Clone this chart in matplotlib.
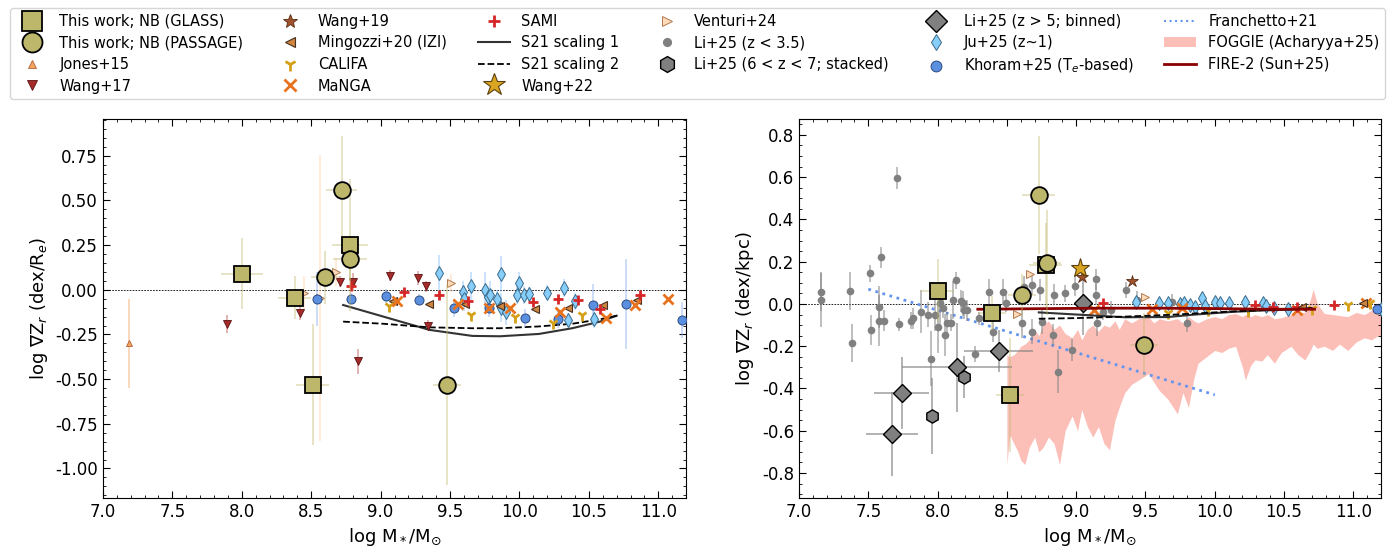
import numpy as np
import matplotlib
matplotlib.use("Agg")
import matplotlib.pyplot as plt
from matplotlib.lines import Line2D
from matplotlib.patches import Patch
from matplotlib.ticker import MultipleLocator, FormatStrFormatter

# ----- left panel: dex/Re -----
glass_l_x = [8.0, 8.38, 8.51, 8.78]
glass_l_y = [0.09, -0.045, -0.53, 0.25]
glass_l_xerr = [0.15, 0.12, 0.12, 0.13]
glass_l_yerr = [0.20, 0.12, 0.34, 0.37]
passage_l_x = [8.72, 8.78, 8.60, 9.48]
passage_l_y = [0.56, 0.17, 0.07, -0.53]
passage_l_xerr = [0.11, 0.12, 0.10, 0.10]
passage_l_yerr = [0.30, 0.12, 0.15, 0.56]

jones_x = [7.19]
jones_y = [-0.30]
jones_yerr = [0.25]

wang17_x = [7.89, 8.42, 8.71, 8.80, 9.07, 9.27, 9.33, 9.34, 8.84]
wang17_y = [-0.19, -0.13, 0.045, 0.045, 0.08, 0.065, 0.02, -0.20, -0.40]
wang17_yerr = [0.05, 0.04, 0.03, 0.05, 0.03, 0.04, 0.03, 0.03, 0.07]

mingozzi_l_x = [9.09, 9.35, 9.61, 9.86, 10.11, 10.35, 10.60, 10.85]
mingozzi_l_y = [-0.06, -0.08, -0.08, -0.09, -0.107, -0.10, -0.085, -0.056]

califa_l_x = [9.06, 9.65, 9.97, 10.24, 10.45]
califa_l_y = [-0.09, -0.14, -0.15, -0.185, -0.14]

manga_l_x = [9.12, 9.56, 9.78, 9.93, 10.29, 10.62, 10.83, 11.07]
manga_l_y = [-0.065, -0.08, -0.10, -0.10, -0.125, -0.16, -0.085, -0.053]

sami_l_x = [8.79, 9.17, 9.42, 9.63, 10.10, 10.28, 10.42, 10.58, 10.87]
sami_l_y = [0.02, -0.01, -0.03, -0.06, -0.07, -0.05, -0.055, -0.105, -0.03]

venturi_l_x = [8.68, 8.45, 8.56, 9.51]
venturi_l_y = [0.10, -0.02, -0.045, 0.04]
venturi_l_yerr = [0.08, 0.10, 0.80, 0.05]

ju_l_x = [9.42, 9.59, 9.65, 9.60, 9.75, 9.77, 9.79, 9.84, 9.87, 9.87,
          9.90, 9.98, 10.00, 10.03, 10.07, 10.20, 10.32, 10.40, 10.35, 10.54]
ju_l_y = [0.094, -0.01, 0.02, -0.05, 0.0, -0.04, -0.03, -0.05, 0.09, -0.10,
          -0.125, -0.03, 0.037, -0.03, -0.025, -0.015, 0.01, -0.065, -0.168, -0.164]
ju_l_yerr = [0.10, 0.06, 0.08, 0.07, 0.10, 0.06, 0.08, 0.05, 0.10, 0.08,
             0.07, 0.05, 0.06, 0.05, 0.04, 0.04, 0.05, 0.05, 0.04, 0.05]

khoram_l_x = [8.54, 8.79, 9.04, 9.28, 9.53, 9.78, 10.04, 10.28, 10.53, 10.77, 11.17]
khoram_l_y = [-0.05, -0.05, -0.035, -0.056, -0.10, -0.10, -0.16, -0.165, -0.085, -0.08, -0.17]
khoram_l_yerr = [0.15, 0.03, 0.04, 0.03, 0.05, 0.05, 0.05, 0.05, 0.12, 0.25, 0.10]

s21_l_x = [8.73, 9.02, 9.35, 9.66, 9.86, 10.14, 10.38, 10.58, 10.70]
s21_1_l_y = [-0.085, -0.15, -0.224, -0.258, -0.26, -0.247, -0.215, -0.178, -0.145]
s21_2_l_y = [-0.178, -0.19, -0.21, -0.215, -0.215, -0.205, -0.19, -0.165, -0.145]

# ----- right panel: dex/kpc -----
glass_r_x = [8.0, 8.39, 8.52, 8.78]
glass_r_y = [0.063, -0.041, -0.431, 0.185]
glass_r_xerr = [0.12, 0.10, 0.10, 0.12]
glass_r_yerr = [0.15, 0.08, 0.27, 0.20]
passage_r_x = [8.73, 8.79, 8.61, 9.49]
passage_r_y = [0.517, 0.196, 0.043, -0.194]
passage_r_xerr = [0.12, 0.10, 0.10, 0.10]
passage_r_yerr = [0.28, 0.25, 0.10, 0.15]

wang19_x = [9.04, 9.40]
wang19_y = [0.127, 0.11]
wang22_x = [9.03]
wang22_y = [0.17]

venturi_r_x = [8.67, 8.57, 9.50]
venturi_r_y = [0.142, -0.047, 0.035]

li_low_x = [7.16, 7.16, 7.37, 7.38, 7.51, 7.52, 7.58, 7.59, 7.58, 7.61,
            7.71, 7.72, 7.81, 7.82, 7.88, 7.93, 7.95, 7.98, 8.00, 8.02,
            8.04, 8.05, 8.07, 8.10, 8.11, 8.13, 8.17, 8.18, 8.19, 8.21,
            8.27, 8.30, 8.37, 8.40, 8.47, 8.49, 8.61, 8.62, 8.68, 8.68,
            8.74, 8.75, 8.83, 8.84, 8.87, 8.92, 8.97, 8.99, 9.14, 9.14,
            9.15, 9.19, 9.25, 9.36, 9.44, 9.69, 9.80]
li_low_y = [0.058, 0.019, 0.062, -0.186, 0.145, -0.123, -0.013, 0.22, -0.08, -0.08,
            0.596, -0.096, -0.08, -0.068, -0.036, -0.05, -0.26, -0.05, -0.11, 0.003,
            -0.017, -0.147, -0.09, -0.088, 0.02, 0.113, 0.014, 0.003, -0.03, -0.03,
            -0.237, -0.068, 0.058, -0.131, 0.058, 0.003, -0.092, 0.082, 0.09, -0.131,
            0.066, -0.084, -0.147, 0.043, -0.32, 0.05, -0.218, 0.087, 0.117, 0.043,
            -0.092, -0.036, -0.028, 0.066, 0.019, 0.008, -0.092]
li_low_yerr = [0.09, 0.13, 0.09, 0.09, 0.04, 0.07, 0.10, 0.05, 0.12, 0.05,
               0.05, 0.03, 0.04, 0.05, 0.10, 0.06, 0.13, 0.08, 0.12, 0.10,
               0.05, 0.10, 0.05, 0.04, 0.09, 0.04, 0.05, 0.06, 0.04, 0.05,
               0.04, 0.03, 0.06, 0.05, 0.06, 0.04, 0.07, 0.05, 0.05, 0.06,
               0.05, 0.06, 0.05, 0.05, 0.10, 0.04, 0.05, 0.05, 0.05, 0.05,
               0.06, 0.04, 0.04, 0.04, 0.04, 0.04, 0.04]

li_bin_x = [7.67, 7.74, 8.14, 8.44, 9.05]
li_bin_y = [-0.616, -0.42, -0.30, -0.221, 0.003]
li_bin_xerr = [0.19, 0.20, 0.40, 0.25, 0.0]
li_bin_yerr = [0.20, 0.17, 0.21, 0.10, 0.15]

li_stack_x = [7.96, 8.19]
li_stack_y = [-0.53, -0.345]
li_stack_yerr = [0.18, 0.10]

ju_r_x = [9.43, 9.60, 9.66, 9.75, 9.78, 9.82, 9.86, 9.91, 9.93, 10.00,
          10.04, 10.10, 10.22, 10.35, 10.37, 10.43, 10.53, 11.20]
ju_r_y = [0.011, 0.003, 0.003, 0.0, 0.003, -0.005, -0.013, 0.027, -0.01, 0.011,
          0.005, 0.003, 0.011, 0.003, -0.01, -0.02, -0.025, -0.025]

manga_r_x = [9.13, 9.55, 9.76, 10.59, 11.09]
manga_r_y = [-0.028, -0.025, -0.02, -0.028, 0.003]
califa_r_x = [9.66, 9.95, 10.24, 10.70, 10.96, 11.12]
califa_r_y = [-0.044, -0.028, -0.032, -0.025, -0.005, 0.003]
sami_r_x = [9.19, 10.29, 10.42, 10.59, 10.86]
sami_r_y = [0.003, -0.005, -0.013, -0.013, -0.005]
mingozzi_r_x = [10.63, 11.07]
mingozzi_r_y = [-0.013, 0.003]
khoram_r_x = [11.17]
khoram_r_y = [-0.025]

franchetto_x = [7.5, 10.0]
franchetto_y = [0.07, -0.43]

fire2_x = [8.29, 8.8, 9.2, 9.6, 10.0, 10.4, 10.72]
fire2_y = [-0.025, -0.022, -0.02, -0.02, -0.022, -0.025, -0.025]

s21_r_x = [8.73, 9.0, 9.35, 9.66, 9.86, 10.14, 10.38, 10.58, 10.70]
s21_1_r_y = [-0.04, -0.05, -0.063, -0.062, -0.05, -0.037, -0.03, -0.026, -0.02]
s21_2_r_y = [-0.07, -0.067, -0.06, -0.052, -0.045, -0.035, -0.028, -0.024, -0.02]

foggie_x = [8.50, 8.52, 8.55, 8.58, 8.60, 8.63, 8.66, 8.70, 8.73, 8.76,
            8.80, 8.84, 8.88, 8.92, 8.97, 9.01, 9.04, 9.08, 9.12, 9.16,
            9.20, 9.24, 9.28, 9.31, 9.35, 9.40, 9.45, 9.52, 9.56, 9.60,
            9.66, 9.73, 9.77, 9.81, 9.85, 9.88, 9.94, 10.00, 10.05, 10.10,
            10.15, 10.20, 10.22, 10.26, 10.29, 10.34, 10.38, 10.43, 10.48, 10.55,
            10.60, 10.65, 10.69, 10.71, 10.74, 10.79, 10.85, 10.90, 10.96, 11.02,
            11.08, 11.13, 11.18, 11.20]
foggie_hi = [-0.24, -0.25, -0.24, -0.22, -0.20, -0.19, -0.17, -0.12, -0.15, -0.10,
             -0.08, -0.12, -0.10, -0.14, -0.16, -0.12, -0.17, -0.12, -0.10, -0.13,
             -0.10, -0.11, -0.08, -0.12, -0.07, -0.09, -0.07, -0.06, -0.09, -0.07,
             -0.08, -0.07, -0.09, -0.06, -0.08, -0.09, -0.07, -0.06, -0.07, -0.05,
             -0.045, -0.06, -0.05, -0.06, -0.05, -0.06, -0.05, -0.07, -0.065, -0.05,
             -0.04, -0.04, 0.02, 0.07, 0.0, -0.045, -0.05, -0.055, -0.06, -0.04,
             -0.05, -0.03, -0.02, -0.02]
foggie_lo = [-0.76, -0.62, -0.66, -0.70, -0.74, -0.76, -0.68, -0.63, -0.70, -0.68,
             -0.63, -0.66, -0.76, -0.60, -0.53, -0.60, -0.50, -0.58, -0.63, -0.58,
             -0.66, -0.69, -0.55, -0.49, -0.42, -0.38, -0.36, -0.33, -0.37, -0.41,
             -0.45, -0.52, -0.42, -0.49, -0.35, -0.28, -0.25, -0.22, -0.23, -0.21,
             -0.20, -0.30, -0.36, -0.29, -0.265, -0.27, -0.24, -0.28, -0.23, -0.20,
             -0.24, -0.265, -0.22, -0.19, -0.21, -0.20, -0.22, -0.19, -0.22, -0.18,
             -0.16, -0.17, -0.15, -0.15]

# ----- styles -----
KHAKI = "#bdb76b"
sty = {
    "glass": dict(marker="s", ms=12, mfc=KHAKI, mec="k", mew=1.3, ls="none"),
    "passage": dict(marker="o", ms=12, mfc=KHAKI, mec="k", mew=1.3, ls="none"),
    "jones": dict(marker="^", ms=5, mfc="sandybrown", mec="#b06030", mew=0.6, ls="none"),
    "wang17": dict(marker="v", ms=6, mfc="#a52a2a", mec="#5a1010", mew=0.6, ls="none"),
    "wang19": dict(marker="*", ms=9, mfc="sienna", mec="#5a2a10", mew=0.6, ls="none"),
    "mingozzi": dict(marker="<", ms=6, mfc="peru", mec="#4a3020", mew=0.8, ls="none"),
    "califa": dict(marker="1", ms=8, mfc="none", mec="#d4a017", mew=2.0, ls="none"),
    "manga": dict(marker="x", ms=7, mfc="none", mec="#e8731e", mew=2.0, ls="none"),
    "sami": dict(marker="+", ms=7, mfc="none", mec="#d62728", mew=2.0, ls="none"),
    "wang22": dict(marker="*", ms=14, mfc="#daa520", mec="#5a4010", mew=0.8, ls="none"),
    "venturi": dict(marker=">", ms=5.5, mfc="peachpuff", mec="#b07a50", mew=0.7, ls="none"),
    "li_low": dict(marker="o", ms=5.5, mfc="gray", mec="gray", mew=0, ls="none"),
    "li_stack": dict(marker="h", ms=9.5, mfc="gray", mec="k", mew=1.0, ls="none"),
    "li_bin": dict(marker="D", ms=9, mfc="gray", mec="k", mew=1.0, ls="none"),
    "ju": dict(marker="d", ms=7, mfc="lightskyblue", mec="#3a6a8a", mew=0.7, ls="none"),
    "khoram": dict(marker="o", ms=6.5, mfc="#5b8fe0", mec="#2a4a80", mew=0.7, ls="none"),
}


def pts(ax, key, x, y, xerr=None, yerr=None, ecolor=None, z=3, ealpha=0.5):
    if xerr is not None or yerr is not None:
        ax.errorbar(x, y, xerr=xerr, yerr=yerr, fmt="none", ecolor=ecolor,
                    elinewidth=1.2, alpha=ealpha, capsize=0, zorder=z - 1)
    ax.plot(x, y, zorder=z, **sty[key])


fig = plt.figure(figsize=(13.95, 5.46), dpi=100)
ax1 = fig.add_axes([0.0738, 0.088, 0.418, 0.694])
ax2 = fig.add_axes([0.5728, 0.088, 0.4172, 0.694])

# ----- left -----
ax1.axhline(0, color="k", ls=(0, (2, 1.5)), lw=0.6, zorder=1)
ax1.plot(s21_l_x, s21_1_l_y, color="#333333", lw=1.5, zorder=2)
ax1.plot(s21_l_x, s21_2_l_y, color="k", ls="--", lw=1.3, zorder=2)
pts(ax1, "jones", jones_x, jones_y, yerr=jones_yerr, ecolor="sandybrown")
pts(ax1, "wang17", wang17_x, wang17_y, yerr=wang17_yerr, ecolor="#c05050")
pts(ax1, "venturi", venturi_l_x, venturi_l_y, yerr=venturi_l_yerr, ecolor="#ffd0a0")
pts(ax1, "ju", ju_l_x, ju_l_y, yerr=ju_l_yerr, ecolor="#88c0ff")
pts(ax1, "khoram", khoram_l_x, khoram_l_y, yerr=khoram_l_yerr, ecolor="#8ab0f0")
pts(ax1, "mingozzi", mingozzi_l_x, mingozzi_l_y)
pts(ax1, "califa", califa_l_x, califa_l_y)
pts(ax1, "manga", manga_l_x, manga_l_y)
pts(ax1, "sami", sami_l_x, sami_l_y)
pts(ax1, "glass", glass_l_x, glass_l_y, glass_l_xerr, glass_l_yerr, KHAKI, z=6, ealpha=0.45)
pts(ax1, "passage", passage_l_x, passage_l_y, passage_l_xerr, passage_l_yerr, KHAKI, z=6, ealpha=0.45)

# ----- right -----
ax2.axhline(0, color="k", ls=(0, (2, 1.5)), lw=0.6, zorder=1)
ax2.fill_between(foggie_x, foggie_lo, foggie_hi, color="salmon", alpha=0.5, lw=0, zorder=0)
ax2.plot(franchetto_x, franchetto_y, color="cornflowerblue", ls=":", lw=2, zorder=2)
pts(ax2, "li_low", li_low_x, li_low_y, yerr=li_low_yerr, ecolor="gray", z=3, ealpha=0.6)
pts(ax2, "li_bin", li_bin_x, li_bin_y, li_bin_xerr, li_bin_yerr, "gray", z=4, ealpha=0.7)
pts(ax2, "li_stack", li_stack_x, li_stack_y, yerr=li_stack_yerr, ecolor="gray", z=4, ealpha=0.7)
ax2.plot(s21_r_x, s21_1_r_y, color="#333333", lw=1.5, zorder=4)
ax2.plot(s21_r_x, s21_2_r_y, color="k", ls="--", lw=1.3, zorder=4)
ax2.plot(fire2_x, fire2_y, color="darkred", lw=2, zorder=4)
pts(ax2, "venturi", venturi_r_x, venturi_r_y)
pts(ax2, "ju", ju_r_x, ju_r_y)
pts(ax2, "manga", manga_r_x, manga_r_y)
pts(ax2, "califa", califa_r_x, califa_r_y)
pts(ax2, "sami", sami_r_x, sami_r_y)
pts(ax2, "mingozzi", mingozzi_r_x, mingozzi_r_y)
pts(ax2, "khoram", khoram_r_x, khoram_r_y)
pts(ax2, "wang19", wang19_x, wang19_y, z=5)
pts(ax2, "wang22", wang22_x, wang22_y, z=5)
pts(ax2, "glass", glass_r_x, glass_r_y, glass_r_xerr, glass_r_yerr, KHAKI, z=6, ealpha=0.45)
pts(ax2, "passage", passage_r_x, passage_r_y, passage_r_xerr, passage_r_yerr, KHAKI, z=6, ealpha=0.45)

for ax in (ax1, ax2):
    ax.set_xlim(7.0, 11.2)
    ax.xaxis.set_major_locator(MultipleLocator(0.5))
    ax.xaxis.set_minor_locator(MultipleLocator(0.1))
    ax.yaxis.set_minor_locator(MultipleLocator(0.05))
    ax.tick_params(which="both", direction="in", top=True, right=True, labelsize=12)
    ax.tick_params(which="major", length=5)
    ax.tick_params(which="minor", length=2.5)
    ax.set_xlabel(r"log M$_*$/M$_{\odot}$", fontsize=13)

ax1.set_ylim(-1.165, 0.956)
ax1.yaxis.set_major_locator(MultipleLocator(0.25))
ax1.yaxis.set_major_formatter(FormatStrFormatter("%.2f"))
ax1.set_ylabel(r"log $\nabla$Z$_r$ (dex/R$_e$)", fontsize=13)
ax2.set_ylim(-0.918, 0.875)
ax2.yaxis.set_major_locator(MultipleLocator(0.2))
ax2.yaxis.set_major_formatter(FormatStrFormatter("%.1f"))
ax2.set_ylabel(r"log $\nabla$Z$_r$ (dex/kpc)", fontsize=13)

# ----- legend -----
def mk(key):
    return Line2D([], [], **sty[key])

handles = [
    mk("glass"), mk("passage"), mk("jones"), mk("wang17"),
    mk("wang19"), mk("mingozzi"), mk("califa"), mk("manga"),
    mk("sami"), Line2D([], [], color="#333333", lw=1.5), Line2D([], [], color="k", ls="--", lw=1.3), mk("wang22"),
    mk("venturi"), mk("li_low"), mk("li_stack"),
    mk("li_bin"), mk("ju"), mk("khoram"),
    Line2D([], [], color="cornflowerblue", ls=":", lw=1.5), Patch(color="salmon", alpha=0.5, lw=0),
    Line2D([], [], color="darkred", lw=2),
]
labels = [
    "This work; NB (GLASS)", "This work; NB (PASSAGE)", "Jones+15", "Wang+17",
    "Wang+19", "Mingozzi+20 (IZI)", "CALIFA", "MaNGA",
    "SAMI", "S21 scaling 1", "S21 scaling 2", "Wang+22",
    "Venturi+24", "Li+25 (z < 3.5)", "Li+25 (6 < z < 7; stacked)",
    "Li+25 (z > 5; binned)", "Ju+25 (z~1)", r"Khoram+25 (T$_e$-based)",
    "Franchetto+21", "FOGGIE (Acharyya+25)", "FIRE-2 (Sun+25)",
]
fig.legend(handles, labels, ncol=6, loc="lower left", mode="expand",
           bbox_to_anchor=(0.007, 0.818, 0.986, 0.165), fontsize=10.5,
           frameon=True, borderaxespad=0, labelspacing=0.45, handlelength=2.2,
           markerscale=1.2)

fig.savefig("out.png", dpi=100)
